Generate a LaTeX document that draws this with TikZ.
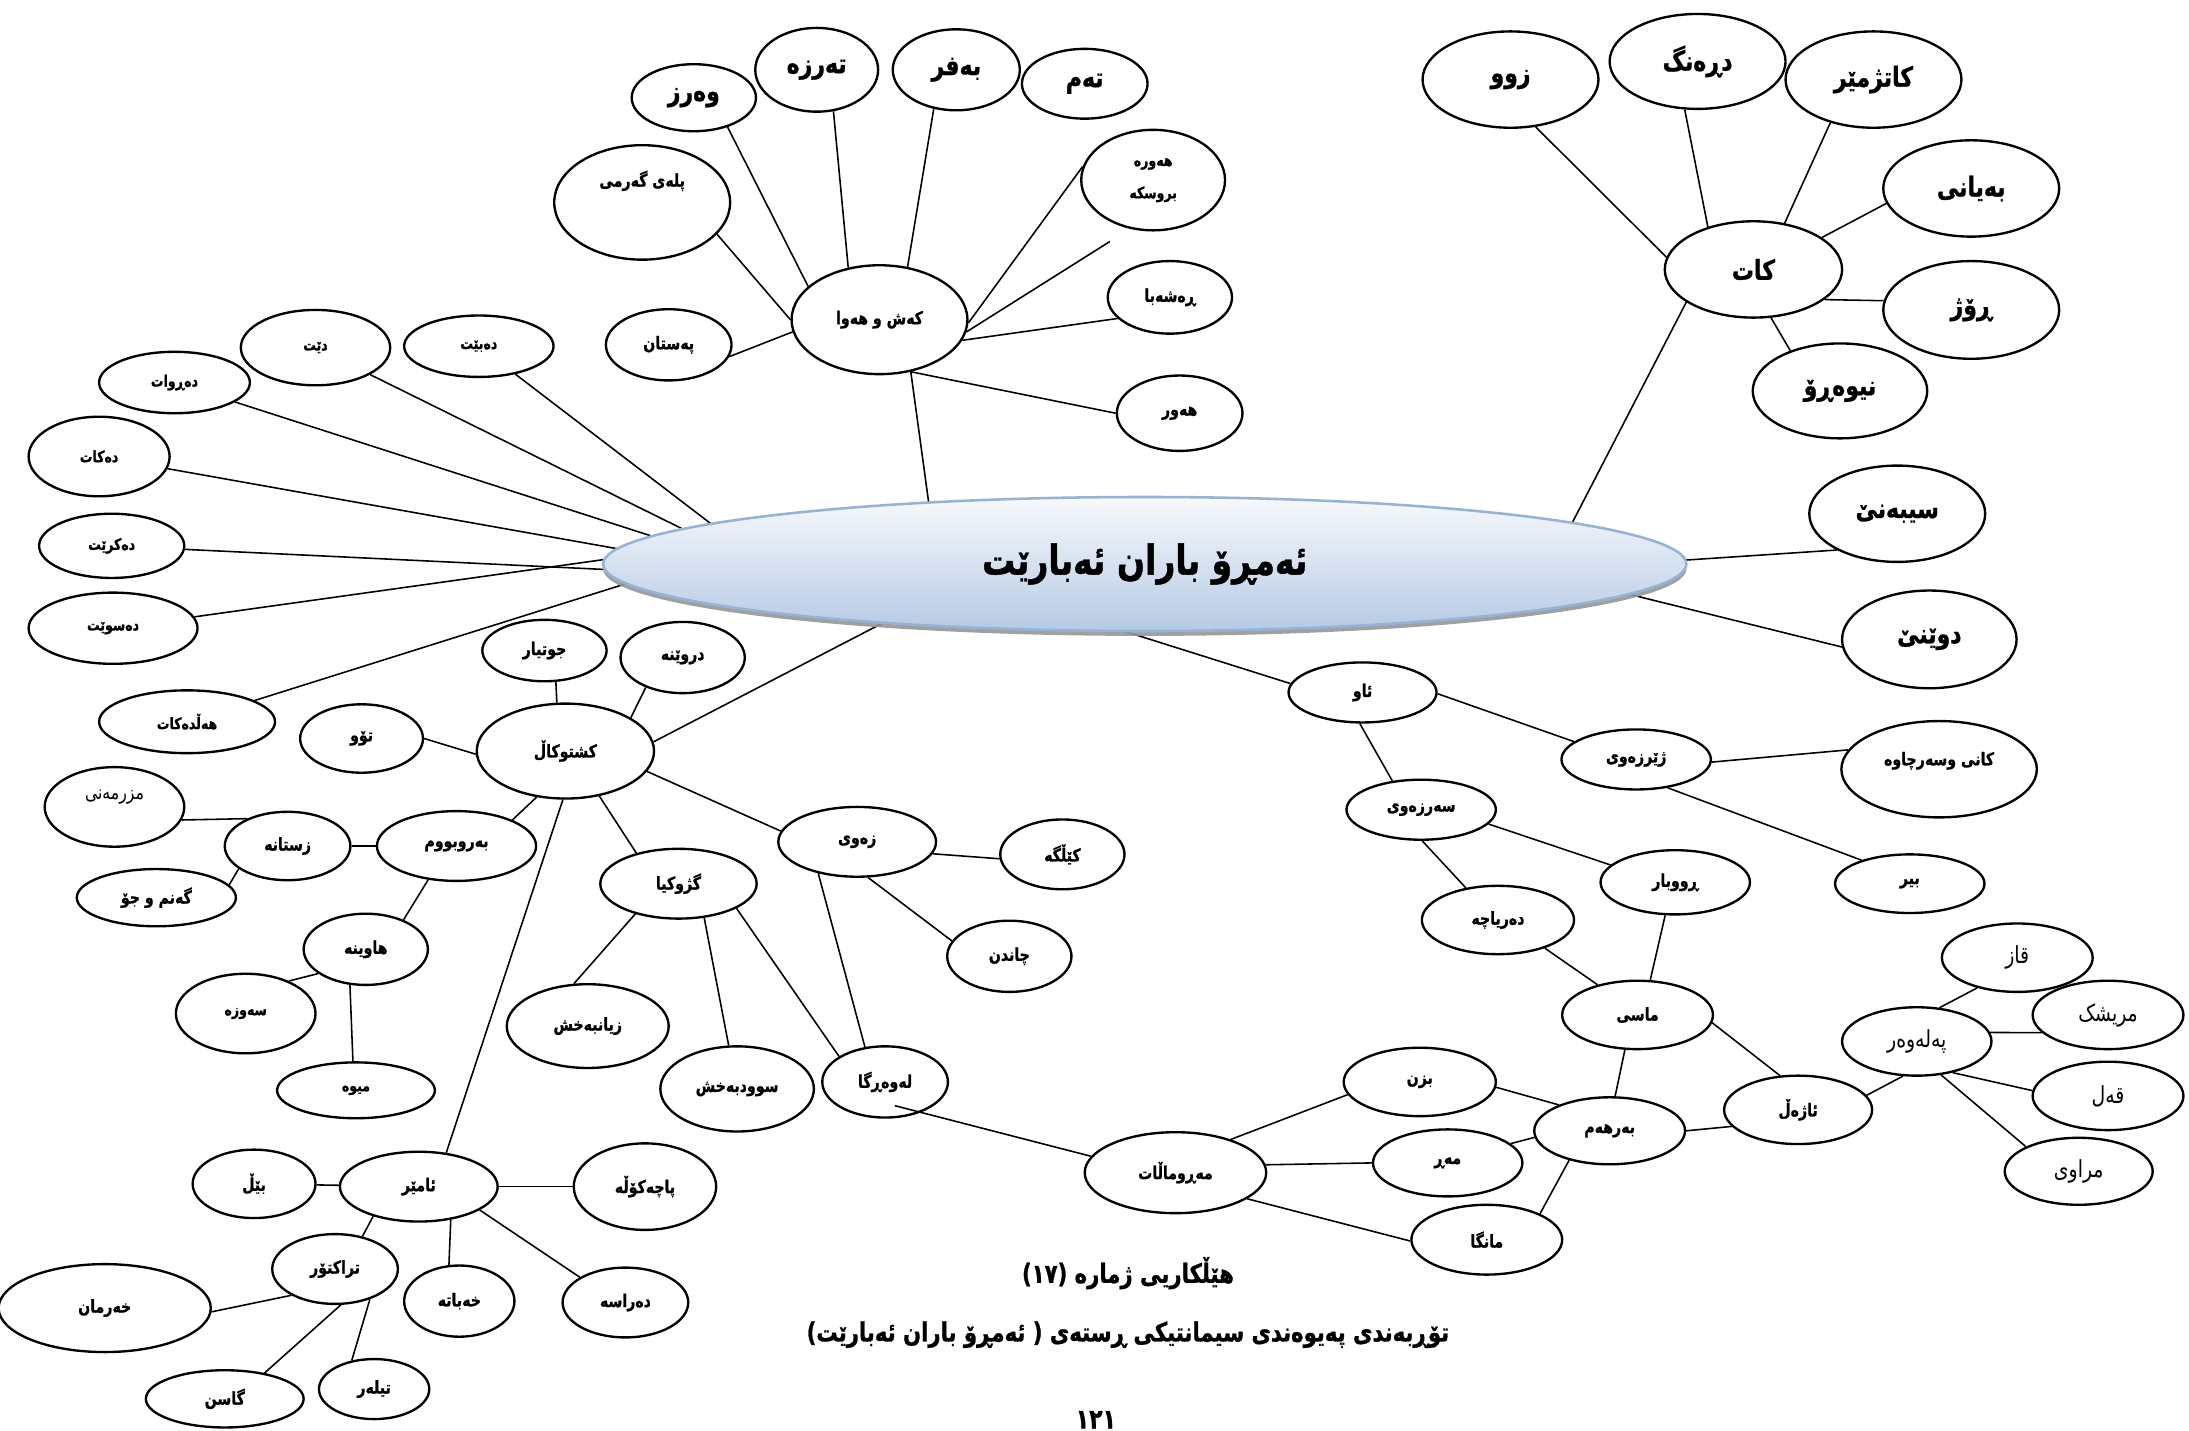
\documentclass[tikz,border=0pt]{standalone}
\usepackage{fontspec}
\usetikzlibrary{shapes.geometric,shadows}
\newfontfamily\kurd[Script=Arabic, FakeStretch=0.8, BoldFeatures={FakeBold=1}]{DejaVu Sans}
\TeXXeTstate=1
\definecolor{rainrim}{RGB}{149,179,215}
\definecolor{raintop}{RGB}{247,249,252}
\definecolor{rainbottom}{RGB}{182,202,228}
\definecolor{rainshadow}{RGB}{150,150,150}
\newcommand{\kt}[1]{\beginR#1\endR}
\newcommand{\kurdlift}[2]{\smash{\raisebox{#1}{#2}}}
\pgfdeclarelayer{back}
\pgfsetlayers{back,main}
\tikzset{
  oval/.style={ellipse, draw, line width=1.2pt, fill=white, inner sep=0pt},
  ovalsize/.style 2 args={minimum width=#1*0.25mm, minimum height=#2*0.25mm},
  word/.style={oval, font=\kurd\bfseries\fontsize{9}{11}\selectfont},
  tinyword/.style={oval, font=\kurd\bfseries\fontsize{8}{9.5}\selectfont},
  bigword/.style={oval, font=\kurd\bfseries\fontsize{14}{16}\selectfont},
  thinword/.style={oval, font=\kurd\fontsize{12}{14}\selectfont},
  link/.style={line width=0.8pt},
  hub/.style={ellipse, draw=rainrim, line width=1.3pt, top color=raintop, bottom color=rainbottom,
    drop shadow={shadow xshift=0pt, shadow yshift=-2.5pt, fill=rainshadow, opacity=0.9},
    inner sep=0pt, font=\kurd\bfseries\fontsize{21}{24}\selectfont},
  caption/.style={inner sep=0pt, font=\kurd\bfseries\fontsize{13.5}{16}\selectfont}
}
\begin{document}
\begin{tikzpicture}[x=0.25mm, y=-0.25mm]
\useasboundingbox (0,0) rectangle (1568,1025);

\node[hub, ovalsize={776}{96}] (today) at (820,404) {\kt{ئەمڕۆ باران ئەبارێت}};

\node[word, ovalsize={126}{78}] (kash) at (630,229) {\kt{کەش و هەوا}};
\node[word, ovalsize={126}{82}] (garmi) at (460,145) {\kurdlift{8pt}{\kt{پلەی گەرمی}}};
\node[bigword, ovalsize={89}{48}] (warz) at (497,70) {\kt{وەرز}};
\node[bigword, ovalsize={88}{60}] (tarza) at (585,50) {\kt{تەرزە}};
\node[bigword, ovalsize={91}{58}] (bafr) at (685,50) {\kt{بەفر}};
\node[bigword, ovalsize={90}{50}] (tam) at (777,60) {\kt{تەم}};
\node[tinyword, ovalsize={103}{72}, align=center] (hawra) at (826,129) {\kt{هەورە}\\[7pt]\kt{بروسکە}};
\node[word, ovalsize={89}{52}] (rashaba) at (838,213) {\kt{ڕەشەبا}};
\node[word, ovalsize={90}{54}] (hawr) at (845,296) {\kt{هەور}};
\node[word, ovalsize={90}{51}] (pastan) at (479,247) {\kt{پەستان}};
\coordinate (stray) at (795,173);

\node[bigword, ovalsize={127}{69}] (kat) at (1256,193) {\kt{کات}};
\node[bigword, ovalsize={126}{69}] (zww) at (1082,57) {\kt{زوو}};
\node[bigword, ovalsize={126}{68}] (darang) at (1216,44) {\kt{دڕەنگ}};
\node[bigword, ovalsize={126}{69}] (katzh) at (1342,57) {\kt{کاتژمێر}};
\node[bigword, ovalsize={126}{69}] (bayani) at (1412,135) {\kt{بەیانی}};
\node[bigword, ovalsize={126}{70}] (rozh) at (1412,222) {\kt{ڕۆژ}};
\node[bigword, ovalsize={125}{68}] (nivaro) at (1318,280) {\kt{نیوەڕۆ}};
\node[bigword, ovalsize={126}{69}] (sibene) at (1359,368) {\kt{سیبەنێ}};
\node[bigword, ovalsize={125}{70}] (dwene) at (1382,458) {\kt{دوێنێ}};

\node[tinyword, ovalsize={107}{44}] (dabet) at (343,248) {\kt{دەبێت}};
\node[tinyword, ovalsize={107}{54}] (det) at (226,249) {\kt{دێت}};
\node[tinyword, ovalsize={108}{44}] (darwat) at (125,274) {\kt{دەڕوات}};
\node[tinyword, ovalsize={101}{57}] (dakat) at (71,327) {\kt{دەکات}};
\node[tinyword, ovalsize={104}{46}] (dakret) at (80,391) {\kt{دەکرێت}};
\node[tinyword, ovalsize={121}{51}] (daswet) at (81,450) {\kt{دەسوێت}};
\node[tinyword, ovalsize={126}{45}] (hald) at (134,517) {\kt{هەڵدەکات}};

\node[word, ovalsize={127}{68}] (kishtu) at (405,538) {\kt{کشتوکاڵ}};
\node[word, ovalsize={89}{44}] (jwtyar) at (390,466) {\kt{جوتیار}};
\node[word, ovalsize={89}{51}] (drwena) at (489,471) {\kt{دروێنە}};
\node[word, ovalsize={88}{49}] (taw) at (259,529) {\kt{تۆو}};
\node[word, ovalsize={114}{50}] (barw) at (327,606) {\kt{بەروبووم}};
\node[word, ovalsize={90}{49}] (zstana) at (206,606) {\kt{زستانە}};
\node[oval, ovalsize={100}{57}, font=\kurd\fontsize{10}{12}\selectfont] (mzr) at (82,578) {\kurdlift{4pt}{\kt{مزرمەنی}}};
\node[word, ovalsize={114}{41}] (ganm) at (112,643) {\kt{گەنم و جۆ}};
\node[word, ovalsize={89}{51}] (hawina) at (262,680) {\kt{هاوینە}};
\node[tinyword, ovalsize={100}{57}] (sawza) at (176,726) {\kt{سەوزە}};
\node[tinyword, ovalsize={113}{40}] (mewa) at (255,781) {\kt{میوە}};
\node[word, ovalsize={112}{50}] (gzh) at (486,633) {\kt{گژوکیا}};
\node[word, ovalsize={116}{60}] (zyan) at (421,735) {\kt{زیانبەخش}};
\node[word, ovalsize={110}{61}] (swd) at (528,780) {\kt{سوودبەخش}};
\node[word, ovalsize={113}{50}] (zawi) at (614,603) {\kt{زەوی}};
\node[word, ovalsize={89}{50}] (kelga) at (761,612) {\kt{کێڵگە}};
\node[word, ovalsize={89}{51}] (chandn) at (723,685) {\kt{چاندن}};
\node[word, ovalsize={90}{51}] (lawarga) at (634,775) {\kt{لەوەڕگا}};

\node[word, ovalsize={113}{50}] (amer) at (300,850) {\kt{ئامێر}};
\node[word, ovalsize={88}{49}] (bel) at (182,848) {\kt{بێڵ}};
\node[word, ovalsize={102}{62}] (pacha) at (462,850) {\kt{پاچەکۆڵە}};
\node[word, ovalsize={90}{50}] (traktor) at (240,909) {\kt{تراکتۆر}};
\node[word, ovalsize={152}{63}] (xarman) at (75,937) {\kt{خەرمان}};
\node[word, ovalsize={79}{51}] (xabata) at (329,932) {\kt{خەباتە}};
\node[word, ovalsize={90}{50}] (darasa) at (448,933) {\kt{دەراسە}};
\node[word, ovalsize={113}{41}] (gasn) at (161,1002) {\kt{گاسن}};
\node[word, ovalsize={79}{43}] (tilar) at (268,995) {\kt{تیلەر}};

\node[word, ovalsize={106}{43}] (aw) at (976,496) {\kt{ئاو}};
\node[word, ovalsize={107}{43}] (zherzawi) at (1172,544) {\kt{ژێرزەوی}};
\node[word, ovalsize={140}{69}] (kani) at (1389,551) {\kurdlift{2pt}{\kt{کانی وسەرچاوە}}};
\node[word, ovalsize={107}{42}] (bir) at (1368,633) {\kt{بیر}};
\node[word, ovalsize={107}{43}] (sarzawi) at (1018,580) {\kt{سەرزەوی}};
\node[word, ovalsize={107}{46}] (rwbar) at (1200,632) {\kt{ڕووبار}};
\node[word, ovalsize={109}{49}] (daryacha) at (1073,659) {\kt{دەریاچە}};
\node[word, ovalsize={108}{49}] (masi) at (1173,727) {\kt{ماسی}};
\node[word, ovalsize={130}{58}] (marr) at (842,840) {\kt{مەڕوماڵات}};
\node[word, ovalsize={109}{49}] (bzn) at (1017,775) {\kt{بزن}};
\node[word, ovalsize={107}{48}] (mar) at (1037,833) {\kt{مەڕ}};
\node[word, ovalsize={108}{50}] (manga) at (1065,888) {\kt{مانگا}};
\node[word, ovalsize={108}{48}] (barham) at (1153,810) {\kt{بەرهەم}};
\node[word, ovalsize={106}{49}] (azhal) at (1288,795) {\kt{ئاژەڵ}};
\node[thinword, ovalsize={107}{49}] (palawar) at (1373,746) {\kt{پەلەوەر}};
\node[thinword, ovalsize={108}{49}] (qaz) at (1445,686) {\kt{قاز}};
\node[thinword, ovalsize={108}{49}] (mrishk) at (1510,727) {\kt{مریشک}};
\node[thinword, ovalsize={108}{49}] (qal) at (1510,785) {\kt{قەل}};
\node[thinword, ovalsize={106}{48}] (mrawi) at (1489,839) {\kt{مراوی}};

\node[caption] (figno) at (808,912) {\kt{هێڵکاریی ژمارە (١٧)}};
\node[caption] (figtitle) at (808,956) {\kt{تۆڕبەندی پەیوەندی سیمانتیکی ڕستەی ( ئەمڕۆ باران ئەبارێت)}};
\node[inner sep=0pt, font=\kurd\bfseries\fontsize{14}{16}\selectfont] (pageno) at (785,1017) {\kt{١٢١}};

\coordinate (cK) at (670,395);
\coordinate (cT) at (1113,400);
\coordinate (cS) at (1150,405);
\coordinate (cD) at (1120,414);
\coordinate (cL1) at (560,414);
\coordinate (cL2) at (560,383);
\coordinate (cKi) at (683,420);
\coordinate (cA) at (735,430);

\begin{pgfonlayer}{back}
\fill[white] (0,0) rectangle (1568,1025);
\draw[link] (kash.-59) -- (cK);
\draw[link] (garmi.-23) -- (kash.180);
\draw[link] (warz.-41) -- (kash.155);
\draw[link] (tarza.-68) -- (kash.121);
\draw[link] (bafr.-120) -- (kash.62);
\draw[link] (hawra.169) -- (kash.-2);
\draw[link] (kash.-8) -- (stray);
\draw[link] (rashaba.202) -- (kash.-14);
\draw[link] (kash.-59) -- (hawr.180);
\draw[link] (pastan.-11) -- (kash.188);

\draw[link] (kat.206) -- (cT);
\draw[link] (zww.-62) -- (kat.172);
\draw[link] (darang.-105) -- (kat.137);
\draw[link] (katzh.-135) -- (kat.56);
\draw[link] (bayani.190) -- (kat.25);
\draw[link] (rozh.174) -- (kat.-23);
\draw[link] (nivaro.141) -- (kat.-70);
\draw[link] (sibene.211) -- (cS);
\draw[link] (dwene.185) -- (cD);

\draw[link] (dabet) -- (cL1);
\draw[link] (det) -- (cL1);
\draw[link] (darwat) -- (cL1);
\draw[link] (dakat) -- (cL1);
\draw[link] (dakret) -- (cL1);
\draw[link] (daswet) -- (cL2);
\draw[link] (hald) -- (cL2);

\draw[link] (kishtu.6) -- (cKi);
\draw[link] (jwtyar.-70) -- (kishtu.100);
\draw[link] (drwena.219) -- (kishtu.27);
\draw[link] (taw.0) -- (kishtu.182);
\draw[link] (kishtu.-122) -- (barw.25);
\draw[link] (kishtu.-93) -- (amer.51);
\draw[link] (kishtu.-53) -- (gzh.144);
\draw[link] (kishtu.-14) -- (zawi.172);
\draw[link] (barw) -- (zstana);
\draw[link] (barw.230) -- (hawina.38);
\draw[link] (mzr.-11) -- (zstana.146);
\draw[link] (zstana.205) -- (ganm.10);
\draw[link] (hawina.207) -- (sawza.37);
\draw[link] (hawina.-114) -- (mewa.96);
\draw[link] (gzh.215) -- (zyan.108);
\draw[link] (gzh.-53) -- (swd.101);
\draw[link] (gzh.-23) -- (lawarga.151);
\draw[link] (zawi.219) -- (lawarga.120);
\draw[link] (zawi.-9) -- (kelga.184);
\draw[link] (zawi.-73) -- (chandn.165);

\draw[link] (amer) -- (bel);
\draw[link] (amer) -- (pacha);
\draw[link] (amer.213) -- (traktor.50);
\draw[link] (amer.-46) -- (xabata.106);
\draw[link] (amer.-21) -- (darasa.151);
\draw[link] (traktor.211) -- (xarman.-2);
\draw[link] (traktor.-81) -- (gasn.33);
\draw[link] (traktor.-41) -- (tilar.128);

\draw[link] (aw.173) -- (cA);
\draw[link] (aw.-1) -- (zherzawi.164);
\draw[link] (aw.-95) -- (sarzawi.135);
\draw[link] (zherzawi.-2) -- (kani.168);
\draw[link] (zherzawi.-42) -- (bir.154);
\draw[link] (sarzawi.-12) -- (rwbar.165);
\draw[link] (sarzawi.-88) -- (daryacha.135);
\draw[link] (daryacha.-31) -- (masi.143);
\draw[link] (rwbar.-107) -- (masi.70);
\draw[link] (masi.-6) -- (azhal.118);
\draw[link] (masi.-110) -- (barham.81);
\draw[link] (barham.153) -- (bzn.-4);
\draw[link] (barham.185) -- (mar.17);
\draw[link] (barham.216) -- (manga.26);
\draw[link] (barham.0) -- (azhal.194);
\draw[link] (azhal.12) -- (palawar.-112);
\draw[link] (palawar.56) -- (qaz.217);
\draw[link] (palawar.7) -- (mrishk.195);
\draw[link] (palawar.-41) -- (qal.176);
\draw[link] (palawar.-54) -- (mrawi.155);
\draw[link] (marr.31) -- (bzn.190);
\draw[link] (marr.5) -- (mar.180);
\draw[link] (marr.-20) -- (manga.181);
\end{pgfonlayer}
\draw[link] ([shift={(7,17)}]lawarga.center) -- (marr.169);
\end{tikzpicture}
\end{document}
